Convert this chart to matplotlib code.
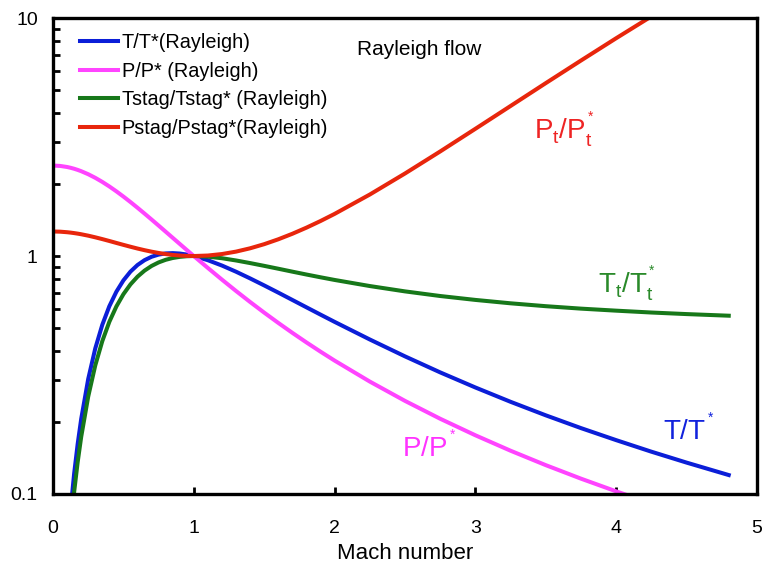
import matplotlib
matplotlib.use('Agg')

import matplotlib.pyplot as plt
from matplotlib.ticker import LogLocator, NullFormatter, FixedLocator

plt.rcParams['font.family'] = ['Liberation Sans', 'DejaVu Sans']
plt.rcParams['mathtext.fontset'] = 'custom'
plt.rcParams['mathtext.rm'] = 'Liberation Sans'
plt.rcParams['mathtext.it'] = 'Liberation Sans'

# Mach numbers and Rayleigh ratios
mach = [0.0, 0.05, 0.1, 0.125, 0.15, 0.175, 0.2, 0.25, 0.3, 0.35, 0.4, 0.45, 0.5, 0.55,
        0.6, 0.65, 0.7, 0.75, 0.8, 0.85, 0.9, 0.95, 1.0, 1.1, 1.2, 1.3, 1.4, 1.5, 1.6,
        1.7, 1.8, 1.9, 2.0, 2.25, 2.5, 2.75, 3.0, 3.25, 3.5, 3.75, 4.0, 4.25, 4.5, 4.8]

t_ratio = [0.0001, 0.0143, 0.0560, 0.0862, 0.1218, 0.1622, 0.2066, 0.3044, 0.4089, 0.5141,
           0.6152, 0.7080, 0.7901, 0.8599, 0.9167, 0.9608, 0.9929, 1.0141, 1.0255, 1.0285,
           1.0244, 1.0146, 1.0, 0.9603, 0.9120, 0.8592, 0.8053, 0.7525, 0.7019, 0.6538,
           0.6089, 0.5673, 0.5289, 0.4460, 0.3788, 0.3244, 0.2803, 0.2440, 0.2141, 0.1892,
           0.1684, 0.1506, 0.1355, 0.1201]

p_ratio = [2.4, 2.3916, 2.3669, 2.3486, 2.3267, 2.3013, 2.2727, 2.2069, 2.1314, 2.0487,
           1.9608, 1.8699, 1.7778, 1.6860, 1.5957, 1.5080, 1.4235, 1.3427, 1.2658, 1.1931,
           1.1246, 1.0603, 1.0, 0.8909, 0.7958, 0.7130, 0.6410, 0.5783, 0.5236, 0.4756,
           0.4335, 0.3964, 0.3636, 0.2968, 0.2462, 0.2071, 0.1765, 0.1520, 0.1322, 0.1160,
           0.1026, 0.0913, 0.0818, 0.0722]

tt_ratio = [0.0001, 0.0119, 0.0468, 0.0720, 0.1020, 0.1360, 0.1736, 0.2568, 0.3469, 0.4389,
            0.5291, 0.6139, 0.6913, 0.7599, 0.8189, 0.8683, 0.9085, 0.9401, 0.9640, 0.9810,
            0.9920, 0.9981, 1.0, 0.9939, 0.9789, 0.9580, 0.9341, 0.9093, 0.8844, 0.8597,
            0.8362, 0.8141, 0.7934, 0.7480, 0.7103, 0.6792, 0.6540, 0.6329, 0.6155, 0.6011,
            0.5894, 0.5789, 0.5702, 0.5613]

pt_ratio = [1.2679, 1.2657, 1.2591, 1.2543, 1.2485, 1.2420, 1.2346, 1.2178, 1.1985, 1.1780,
            1.1567, 1.1350, 1.1141, 1.0941, 1.0752, 1.0582, 1.0431, 1.0301, 1.0193, 1.0109,
            1.0049, 1.0013, 1.0, 1.0049, 1.0195, 1.0436, 1.0777, 1.1215, 1.1757, 1.2402,
            1.3158, 1.4031, 1.5031, 1.8130, 2.2222, 2.7505, 3.4245, 4.271, 5.328, 6.630,
            8.227, 10.16, 12.5, 16.5]

fig = plt.figure(figsize=(7.63, 5.65), dpi=100)
ax = fig.add_axes([0.0695, 0.1257, 0.9225, 0.8423])

lw = 2.9
ax.plot(mach, t_ratio, color='#0b1ed8', lw=lw, label='T/T*(Rayleigh)')
ax.plot(mach, p_ratio, color='#ff44ff', lw=lw, label='P/P* (Rayleigh)')
ax.plot(mach, tt_ratio, color='#17781a', lw=lw, label='Tstag/Tstag* (Rayleigh)')
ax.plot(mach, pt_ratio, color='#e8260c', lw=lw, label='Pstag/Pstag*(Rayleigh)')

ax.set_yscale('log')
ax.set_xlim(0, 5)
ax.set_ylim(0.1, 10)

ax.xaxis.set_major_locator(FixedLocator([0, 1, 2, 3, 4, 5]))
ax.set_xticklabels(['0', '1', '2', '3', '4', '5'])
ax.yaxis.set_major_locator(FixedLocator([0.1, 1, 10]))
ax.set_yticklabels(['0.1', '1', '10'])
ax.yaxis.set_minor_locator(LogLocator(base=10, subs=range(2, 10)))
ax.yaxis.set_minor_formatter(NullFormatter())

ax.tick_params(axis='both', which='major', direction='in', length=5, width=2,
               labelsize=14, pad=11)
ax.tick_params(axis='y', which='minor', direction='in', length=5, width=2)
ax.tick_params(axis='x', pad=19)
for s in ax.spines.values():
    s.set_linewidth(2.4)

ax.set_xlabel('Mach number', fontsize=16, labelpad=4)

# curve labels, small raised star like the original
ax.text(2.16, 7.4, 'Rayleigh flow', fontsize=15, va='center', ha='left')
ax.text(3.42, 3.4, r'$\mathrm{P_t/P_t^{{}^*}}$', color='#ee2424', fontsize=20, va='center')
ax.text(3.87, 0.76, r'$\mathrm{T_t/T_t^{{}^*}}$', color='#2a8a2a', fontsize=20, va='center')
ax.text(4.33, 0.185, r'$\mathrm{T/T^{{}^*}}$', color='#1122dd', fontsize=20, va='center')
ax.text(2.48, 0.158, r'$\mathrm{P/P^{{}^*}}$', color='#ff33ff', fontsize=20, va='center')

ax.legend(loc='upper left', frameon=False, fontsize=14.3, handlelength=1.9,
          handletextpad=0.2, labelspacing=0.49, borderaxespad=0.35,
          bbox_to_anchor=(0.017, 1.0))

fig.savefig('out.png', dpi=100)
